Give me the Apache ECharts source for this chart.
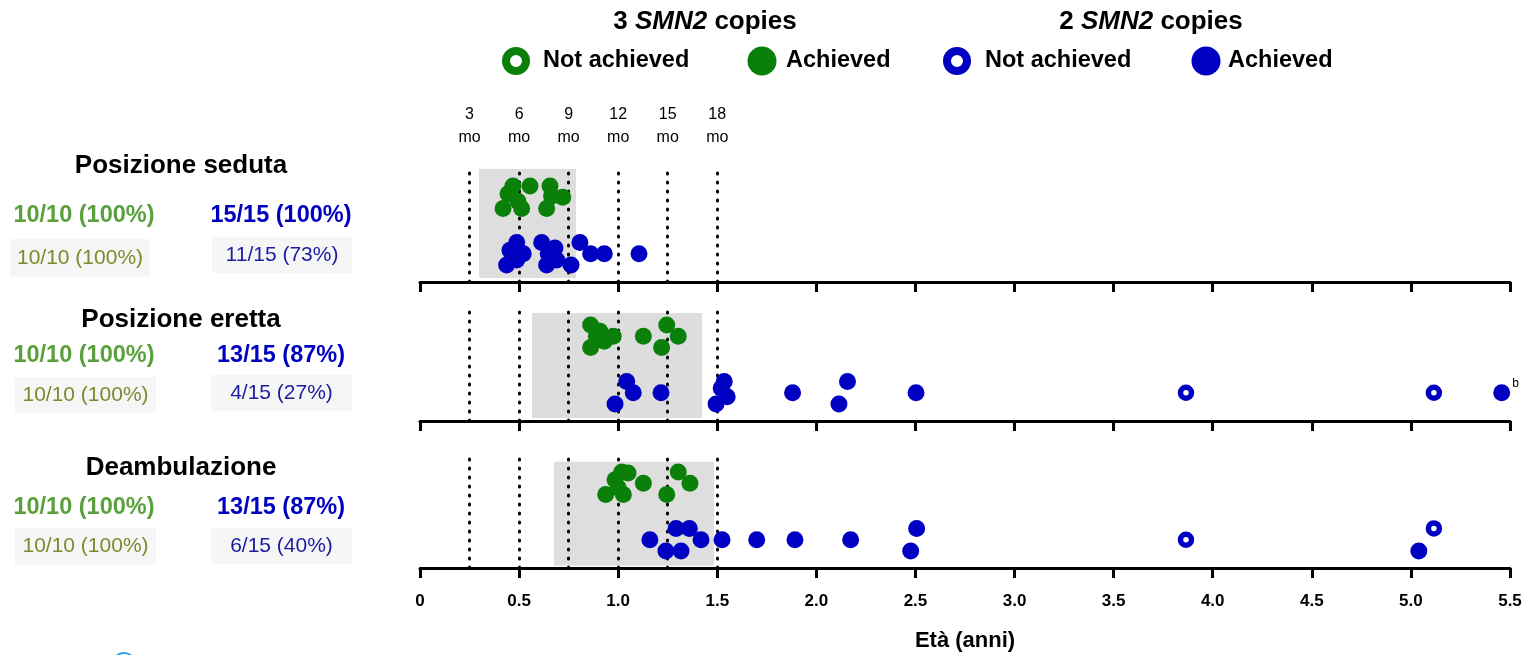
<!DOCTYPE html>
<html><head><meta charset="utf-8">
<script src="https://cdn.jsdelivr.net/npm/echarts@6/dist/echarts.min.js"></script>
<style>html,body{margin:0;padding:0;background:#fff}#c{width:1531px;height:655px}</style>
</head><body><div id="c"></div>
<script>
// ---------- DATA ----------
const xTickLabels = ['0','0.5','1.0','1.5','2.0','2.5','3.0','3.5','4.0','4.5','5.0','5.5'];
const monthMarks = [3, 6, 9, 12, 15, 18];
const milestones = ['Posizione seduta', 'Posizione eretta', 'Deambulazione'];
const stats3Bold = ['10/10 (100%)', '10/10 (100%)', '10/10 (100%)'];
const stats2Bold = ['15/15 (100%)', '13/15 (87%)', '13/15 (87%)'];
const stats3Ref = ['10/10 (100%)', '10/10 (100%)', '10/10 (100%)'];
const stats2Ref = ['11/15 (73%)', '4/15 (27%)', '6/15 (40%)'];

// [age in years, lane (0 = lowest row)]
const seduta3Achieved = [[0.469,2],[0.555,2],[0.656,2],[0.444,1.3],[0.494,0.65],[0.72,1],[0.664,1.1],[0.419,0],[0.513,0],[0.639,0]];
const seduta2Achieved = [[0.488,2],[0.614,2],[0.807,2],[0.454,1.3],[0.521,1],[0.681,1.5],[0.647,1],[0.861,1],[0.93,1],[1.105,1],[0.437,0],[0.639,0],[0.69,0.45],[0.762,0],[0.488,0.45]];
const seduta2NotAchieved = [];

const eretta3Achieved = [[0.861,2],[0.908,1.45],[0.975,1],[0.93,0.55],[0.861,0],[0.89,1],[1.245,2],[1.127,1],[1.303,1],[1.219,0]];
const eretta2Achieved = [[1.043,2],[1.076,1],[0.984,0],[1.216,1],[1.535,2],[1.52,1.4],[1.55,0.65],[1.494,0],[1.88,1],[2.157,2],[2.114,0],[2.503,1],[5.458,1]];
const eretta2NotAchieved = [[3.865,1],[5.116,1]];

const deamb3Achieved = [[1.018,2],[1.303,2],[0.984,1.3],[1.127,1],[1.362,1],[1.0,0.6],[0.937,0],[1.026,0],[1.245,0],[1.05,1.9]];
const deamb2Achieved = [[1.292,2],[1.359,2],[1.16,1],[1.418,1],[1.524,1],[1.699,1],[1.892,1],[2.173,1],[1.241,0],[1.317,0],[2.506,2],[2.476,0],[5.04,0]];
const deamb2NotAchieved = [[3.865,1],[5.116,2]];

const windowSeduta = [0.298, 0.787];
const windowEretta = [0.565, 1.423];
const windowDeamb = [0.676, 1.483];

// ---------- STYLE / LAYOUT ----------
const FONT = '"Liberation Sans", Arial, Helvetica, sans-serif';
const GREEN = '#0a800a', BLUE = '#0000c2';
const GREEN_TXT = '#5aa03c', OLIVE_TXT = '#7d8a2c', BLUE_TXT = '#0000c0', BLUE_REF = '#1c1ca0';
const GRID_TOPS = [169, 308, 455];
const GRID_H = 113;
const GREEN_BASE = 6.5, BLUE_BASE = 1.5;
const rectY = [[0.35, 10], [0.27, 9.56], [0.2, 9.4]];

const panels = [
  {g: seduta3Achieved, b: seduta2Achieved, bn: seduta2NotAchieved, w: windowSeduta},
  {g: eretta3Achieved, b: eretta2Achieved, bn: eretta2NotAchieved, w: windowEretta},
  {g: deamb3Achieved, b: deamb2Achieved, bn: deamb2NotAchieved, w: windowDeamb}
];

const grids = GRID_TOPS.map(t => ({left: 420, width: 1090, top: t, height: GRID_H}));

const xAxes = [0,1,2].map(i => ({
  gridIndex: i, type: 'value', min: 0, max: 5.5, interval: 0.5,
  axisLine: {onZero: false, lineStyle: {color: '#000', width: 3}},
  axisTick: {show: true, length: 10, lineStyle: {color: '#000', width: 3}},
  splitLine: {show: false},
  axisLabel: {
    show: i === 2, margin: 25, color: '#000', fontFamily: FONT, fontWeight: 'bold', fontSize: 17,
    formatter: v => xTickLabels[Math.round(v / 0.5)]
  },
  name: i === 2 ? 'Età (anni)' : '',
  nameLocation: 'middle', nameGap: 62,
  nameTextStyle: {color: '#000', fontFamily: FONT, fontWeight: 'bold', fontSize: 22}
}));
// month labels above the first panel
xAxes.push({
  gridIndex: 0, type: 'value', position: 'top', min: 0, max: 5.5, interval: 0.25,
  axisLine: {show: false}, axisTick: {show: false}, splitLine: {show: false},
  axisLabel: {
    margin: 20, color: '#000', fontFamily: FONT, fontSize: 16, lineHeight: 23,
    formatter: v => { const m = Math.round(v * 12); return monthMarks.includes(m) && v > 0 ? m + '\nmo' : ''; }
  }
});

const yAxes = [0,1,2].map(i => ({gridIndex: i, type: 'value', min: 0, max: 10, show: false}));

const series = [];
panels.forEach((p, i) => {
  series.push({
    type: 'scatter', xAxisIndex: i, yAxisIndex: i, data: [], z: i === 1 ? 3 : 1, silent: true,
    markArea: {
      silent: true,
      itemStyle: {color: i === 1 ? 'rgba(195,195,195,0.56)' : '#dedede'},
      data: [[{xAxis: p.w[0], yAxis: rectY[i][0]}, {xAxis: p.w[1], yAxis: rectY[i][1]}]]
    }
  });
  series.push({
    type: 'scatter', xAxisIndex: i, yAxisIndex: i, data: [], z: 2, silent: true,
    markLine: {
      silent: true, symbol: ['none', 'none'], label: {show: false},
      lineStyle: {color: '#000', type: [1, 8], width: 3, cap: 'round'},
      data: monthMarks.map(m => ({xAxis: m / 12}))
    }
  });
  series.push({
    type: 'scatter', xAxisIndex: i, yAxisIndex: i, z: 5, symbol: 'circle', symbolSize: 17,
    itemStyle: {color: GREEN, opacity: 1},
    data: p.g.map(d => [d[0], GREEN_BASE + d[1]])
  });
  series.push({
    type: 'scatter', xAxisIndex: i, yAxisIndex: i, z: 5, symbol: 'circle', symbolSize: 17,
    itemStyle: {color: BLUE, opacity: 1},
    data: p.b.map(d => {
      const item = {value: [d[0], BLUE_BASE + d[1]]};
      if (i === 1 && d[0] > 5.4) {
        item.label = {show: true, formatter: 'b', position: [19, -7], color: '#000', fontFamily: FONT, fontSize: 12};
      }
      return item;
    })
  });
  series.push({
    type: 'scatter', xAxisIndex: i, yAxisIndex: i, z: 5, symbol: 'circle', symbolSize: 11,
    itemStyle: {color: '#fff', borderColor: BLUE, borderWidth: 5.5, opacity: 1},
    data: p.bn.map(d => [d[0], BLUE_BASE + d[1]])
  });
});

// ---------- GRAPHICS (left labels, legend) ----------
const graphic = [];
function txt(x, y, text, size, weight, color, extra) {
  graphic.push(Object.assign({
    type: 'text', x, y, silent: true,
    style: {text, fontSize: size, fontWeight: weight, fontFamily: FONT, fill: color, align: 'center', verticalAlign: 'middle'}
  }, extra || {}));
}
function box(x, y, w, h) {
  graphic.push({type: 'rect', silent: true, shape: {x, y, width: w, height: h}, style: {fill: '#f6f6f6'}});
}
const titleY = [166, 320, 468];
const boldY = [216, 356, 508];
const boxes = [
  {g: [10, 239, 140, 38], b: [212, 237, 140, 36]},
  {g: [15, 377, 141, 36], b: [211, 375, 141, 36]},
  {g: [15, 528, 141, 37], b: [211, 528, 141, 36]}
];
milestones.forEach((m, i) => {
  txt(181, titleY[i], m, 26, 'bold', '#000');
  txt(84, boldY[i], stats3Bold[i], 23.5, 'bold', GREEN_TXT);
  txt(281, boldY[i], stats2Bold[i], 23.5, 'bold', BLUE_TXT);
  const bg = boxes[i].g, bb = boxes[i].b;
  box(bg[0], bg[1], bg[2], bg[3]);
  box(bb[0], bb[1], bb[2], bb[3]);
  txt(bg[0] + bg[2] / 2, bg[1] + bg[3] / 2, stats3Ref[i], 21, 'normal', OLIVE_TXT);
  txt(bb[0] + bb[2] / 2, bb[1] + bb[3] / 2, stats2Ref[i], 21, 'normal', BLUE_REF);
});

// legend headers
[[705, '3'], [1151, '2']].forEach(([x, n]) => {
  graphic.push({
    type: 'text', x, y: 22, silent: true,
    style: {
      text: n + ' {i|SMN2} copies', fontSize: 26, fontWeight: 'bold', fontFamily: FONT, fill: '#000',
      align: 'center', verticalAlign: 'middle',
      rich: {i: {fontStyle: 'italic', fontWeight: 'bold', fontSize: 26, fontFamily: FONT, fill: '#000'}}
    }
  });
});
// legend items
const legendItems = [
  {cx: 516, color: GREEN, hollow: true, label: 'Not achieved', tx: 543},
  {cx: 762, color: GREEN, hollow: false, label: 'Achieved', tx: 786},
  {cx: 957, color: BLUE, hollow: true, label: 'Not achieved', tx: 985},
  {cx: 1206, color: BLUE, hollow: false, label: 'Achieved', tx: 1228}
];
legendItems.forEach(it => {
  if (it.hollow) {
    graphic.push({type: 'circle', silent: true, shape: {cx: it.cx, cy: 61, r: 10}, style: {fill: '#fff', stroke: it.color, lineWidth: 8}});
  } else {
    graphic.push({type: 'circle', silent: true, shape: {cx: it.cx, cy: 61, r: 14.5}, style: {fill: it.color}});
  }
  graphic.push({
    type: 'text', x: it.tx, y: 61, silent: true,
    style: {text: it.label, fontSize: 23.5, fontWeight: 'bold', fontFamily: FONT, fill: '#000', align: 'left', verticalAlign: 'middle'}
  });
});
// logo fragment bottom-left
graphic.push({type: 'arc', silent: true, shape: {cx: 124, cy: 664, r: 11, startAngle: Math.PI * 1.05, endAngle: Math.PI * 1.75}, style: {stroke: '#29a3dc', lineWidth: 2, fill: 'none'}});

const chart = echarts.init(document.getElementById('c'), null, {renderer: 'canvas'});
chart.setOption({
  animation: false,
  backgroundColor: '#fff',
  grid: grids,
  xAxis: xAxes,
  yAxis: yAxes,
  series,
  graphic
});
</script>
</body></html>
